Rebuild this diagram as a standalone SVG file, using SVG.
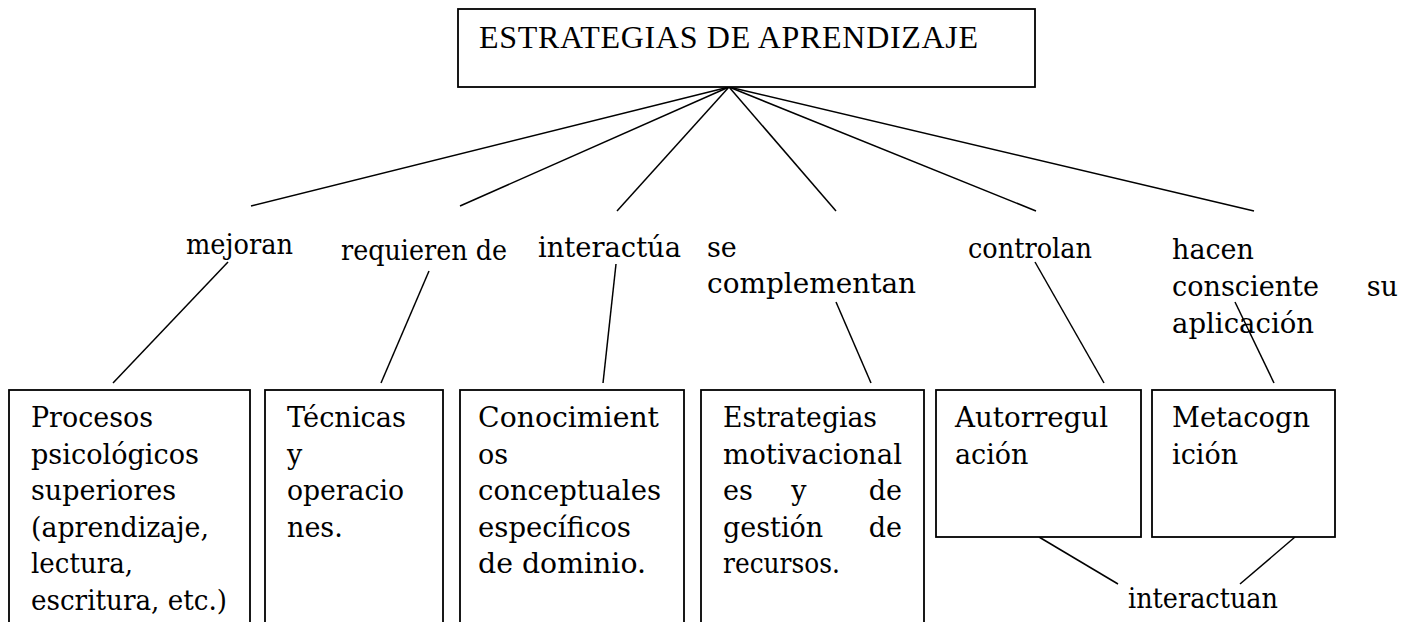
<svg xmlns="http://www.w3.org/2000/svg" width="1413" height="622" viewBox="0 0 1413 622">
<style>
.box{fill:#fff;stroke:#000;stroke-width:1.8}
.ln{stroke:#000;stroke-width:1.5;fill:none}
.t{font-family:"DejaVu Serif","Liberation Serif",serif;font-size:27px;fill:#000}
.title{font-family:"Liberation Serif","Times New Roman",serif;font-size:32px;fill:#000}
</style>
<rect width="1413" height="622" fill="#fff"/>
<g id="connectors">
<line class="ln" x1="729" y1="87" x2="251" y2="206"/>
<line class="ln" x1="729" y1="87" x2="460" y2="206"/>
<line class="ln" x1="729" y1="87" x2="617" y2="211"/>
<line class="ln" x1="729" y1="87" x2="836" y2="211"/>
<line class="ln" x1="729" y1="87" x2="1036" y2="211"/>
<line class="ln" x1="729" y1="87" x2="1254" y2="211"/>
<line class="ln" x1="228" y1="262" x2="113" y2="383"/>
<line class="ln" x1="429" y1="271" x2="381" y2="383"/>
<line class="ln" x1="616" y1="264" x2="603" y2="383"/>
<line class="ln" x1="836" y1="302" x2="871" y2="383"/>
<line class="ln" x1="1035" y1="262" x2="1104" y2="383"/>
<line class="ln" x1="1235" y1="302" x2="1274" y2="383"/>
<line class="ln" x1="1039" y1="537" x2="1118" y2="584"/>
<line class="ln" x1="1295" y1="537" x2="1240" y2="584"/>
</g>
<g id="root">
<rect class="box" x="458" y="9" width="577" height="78"/>
<text class="title" x="479" y="48" textLength="499">ESTRATEGIAS DE APRENDIZAJE</text>
</g>
<g id="labels">
<text class="t" x="186" y="254" textLength="107" lengthAdjust="spacingAndGlyphs">mejoran</text>
<text class="t" x="341" y="260" textLength="166" lengthAdjust="spacingAndGlyphs">requieren de</text>
<text class="t" x="538" y="257" textLength="143" lengthAdjust="spacingAndGlyphs">interactúa</text>
<text class="t" x="707" y="257">se</text>
<text class="t" x="707" y="293" textLength="209" lengthAdjust="spacingAndGlyphs">complementan</text>
<text class="t" x="968" y="258" textLength="124" lengthAdjust="spacingAndGlyphs">controlan</text>
<text class="t" x="1172" y="259">hacen</text>
<text class="t" x="1172" y="296" textLength="147" lengthAdjust="spacingAndGlyphs">consciente</text>
<text class="t" x="1398" y="296" text-anchor="end">su</text>
<text class="t" x="1172" y="333" textLength="142" lengthAdjust="spacingAndGlyphs">aplicación</text>
<text class="t" x="1128" y="608" textLength="150" lengthAdjust="spacingAndGlyphs">interactuan</text>
</g>
<g id="node-procesos">
<rect class="box" x="9" y="390" width="241" height="260"/>
<text class="t" x="31" y="427" textLength="122" lengthAdjust="spacingAndGlyphs">Procesos</text>
<text class="t" x="31" y="464" textLength="168" lengthAdjust="spacingAndGlyphs">psicológicos</text>
<text class="t" x="31" y="500" textLength="145" lengthAdjust="spacingAndGlyphs">superiores</text>
<text class="t" x="31" y="537" textLength="178" lengthAdjust="spacingAndGlyphs">(aprendizaje,</text>
<text class="t" x="31" y="573" textLength="102" lengthAdjust="spacingAndGlyphs">lectura,</text>
<text class="t" x="31" y="610" textLength="196" lengthAdjust="spacingAndGlyphs">escritura, etc.)</text>
</g>
<g id="node-tecnicas">
<rect class="box" x="265" y="390" width="178" height="260"/>
<text class="t" x="287" y="427" textLength="119" lengthAdjust="spacingAndGlyphs">Técnicas</text>
<text class="t" x="287" y="464">y</text>
<text class="t" x="287" y="500" textLength="117" lengthAdjust="spacingAndGlyphs">operacio</text>
<text class="t" x="287" y="537">nes.</text>
</g>
<g id="node-conocimientos">
<rect class="box" x="460" y="390" width="224" height="260"/>
<text class="t" x="478" y="427" textLength="181" lengthAdjust="spacingAndGlyphs">Conocimient</text>
<text class="t" x="478" y="464">os</text>
<text class="t" x="478" y="500" textLength="183" lengthAdjust="spacingAndGlyphs">conceptuales</text>
<text class="t" x="478" y="537" textLength="153" lengthAdjust="spacingAndGlyphs">específicos</text>
<text class="t" x="478" y="573" textLength="168" lengthAdjust="spacingAndGlyphs">de dominio.</text>
</g>
<g id="node-estrategias">
<rect class="box" x="701" y="390" width="223" height="260"/>
<text class="t" x="723" y="427" textLength="154" lengthAdjust="spacingAndGlyphs">Estrategias</text>
<text class="t" x="723" y="464" textLength="179" lengthAdjust="spacingAndGlyphs">motivacional</text>
<text class="t" x="723" y="500">es</text>
<text class="t" x="799" y="500" text-anchor="middle">y</text>
<text class="t" x="902" y="500" text-anchor="end">de</text>
<text class="t" x="723" y="537">gestión</text>
<text class="t" x="902" y="537" text-anchor="end">de</text>
<text class="t" x="723" y="573" textLength="117" lengthAdjust="spacingAndGlyphs">recursos.</text>
</g>
<g id="node-autorregulacion">
<rect class="box" x="936" y="390" width="205" height="147"/>
<text class="t" x="955" y="427" textLength="153" lengthAdjust="spacingAndGlyphs">Autorregul</text>
<text class="t" x="955" y="464">ación</text>
</g>
<g id="node-metacognicion">
<rect class="box" x="1152" y="390" width="183" height="147"/>
<text class="t" x="1172" y="427" textLength="138" lengthAdjust="spacingAndGlyphs">Metacogn</text>
<text class="t" x="1172" y="464">ición</text>
</g>
</svg>
